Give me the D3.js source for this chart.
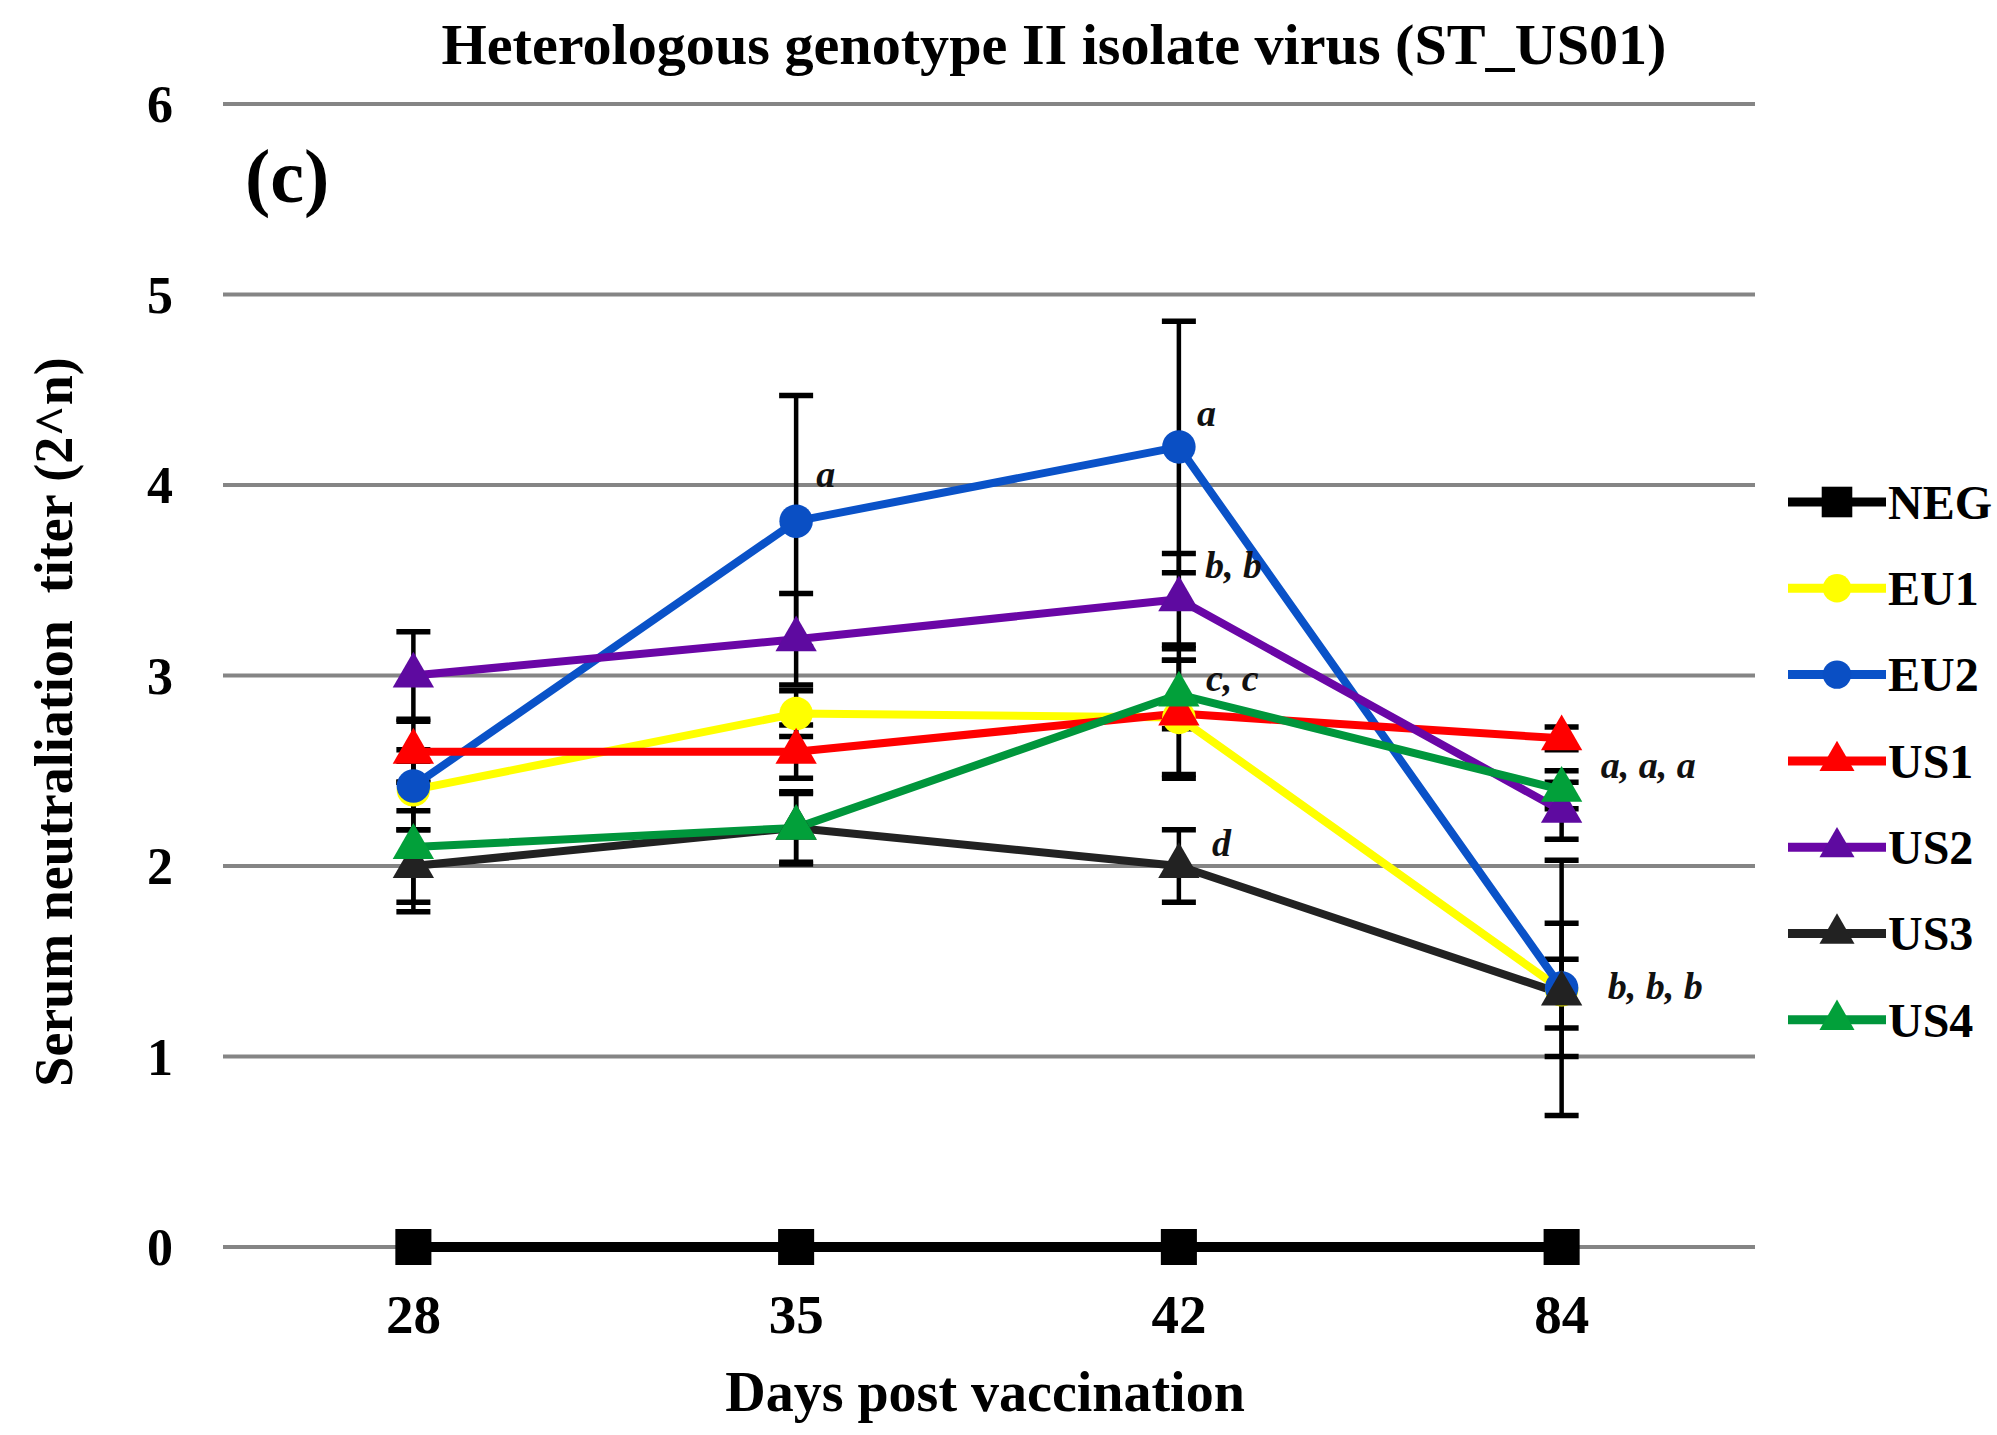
<!DOCTYPE html>
<html><head><meta charset="utf-8">
<script src="https://cdn.jsdelivr.net/npm/d3@7"></script>
<style>body{margin:0;background:#fff} svg{display:block}</style>
</head><body>
<svg id="c" width="1997" height="1435"></svg>
<script>
// ---------- data ----------
const days = ["28", "35", "42", "84"];
const seriesNames = ["NEG", "EU1", "EU2", "US1", "US2", "US3", "US4"];
const NEG = [0, 0, 0, 0];
const EU1 = [2.40, 2.80, 2.78, 1.35];
const EU2 = [2.42, 3.81, 4.20, 1.36];
const US1 = [2.60, 2.60, 2.80, 2.67];
const US2 = [3.00, 3.19, 3.40, 2.29];
const US3 = [2.00, 2.20, 2.00, 1.33];
const US4 = [2.10, 2.20, 2.90, 2.40];
const errNEG = [0, 0, 0, 0];
const errEU1 = [0.21, 0.12, 0.30, 0.35];
const errEU2 = [0.13, 0.66, 0.66, 0.67];
const errUS1 = [0.16, 0.14, 0.34, 0.06];
const errUS2 = [0.23, 0.24, 0.24, 0.15];
const errUS3 = [0.19, 0.18, 0.19, 0.18];
const errUS4 = [0.34, 0.19, 0.18, 0.10];
const yTicks = [0, 1, 2, 3, 4, 5, 6];
const annotTexts = ["a", "a", "b, b", "c, c", "d", "a, a, a", "b, b, b"];
const annotDays = ["35", "42", "42", "42", "42", "84", "84"];
const annotValues = [3.99, 4.31, 3.51, 2.92, 2.05, 2.46, 1.30];
const titleText = "Heterologous genotype II isolate virus (ST_US01)";
const xTitle = "Days post vaccination";
const yTitle = "Serum neutraliation  titer (2^n)";
const panelLabel = "(c)";

// ---------- styles ----------
const seriesValues = [NEG, EU1, EU2, US1, US2, US3, US4];
const seriesErrors = [errNEG, errEU1, errEU2, errUS1, errUS2, errUS3, errUS4];
const colors = ["#000000", "#ffff00", "#0a52c8", "#ff0000", "#6a06a6", "#222222", "#00963c"];
const markerColors = ["#000000", "#ffff00", "#0a4fc4", "#ff0000", "#5e0aa0", "#222222", "#02a03a"];
const shapes = [d3.symbolSquare, d3.symbolCircle, d3.symbolCircle, d3.symbolTriangle, d3.symbolTriangle, d3.symbolTriangle, d3.symbolTriangle];
const shapeSizes = [1300, 880, 880, 740, 740, 740, 740];
const FONT = "'Liberation Serif', 'Times New Roman', serif";

const svg = d3.select("#c");
const x = d3.scalePoint().domain(days).range([222, 1753]).padding(0.5);
const y = d3.scaleLinear().domain([0, 6]).range([1247, 104]);
const gridX0 = 223, gridX1 = 1755;

// gridlines
svg.append("g").selectAll("line").data(yTicks).join("line")
  .attr("x1", gridX0).attr("x2", gridX1)
  .attr("y1", d => y(d)).attr("y2", d => y(d))
  .attr("stroke", "#858585").attr("stroke-width", 4);

// y tick labels
svg.append("g").selectAll("text").data(yTicks).join("text")
  .attr("x", 173).attr("y", d => y(d)).attr("dy", "0.35em")
  .attr("text-anchor", "end")
  .attr("font-family", FONT).attr("font-weight", "bold").attr("font-size", 52)
  .text(d => d);

// x tick labels
svg.append("g").selectAll("text").data(days).join("text")
  .attr("x", d => x(d)).attr("y", 1333)
  .attr("text-anchor", "middle")
  .attr("font-family", FONT).attr("font-weight", "bold").attr("font-size", 55)
  .text(d => d);

// titles
svg.append("text").attr("x", 1054).attr("y", 64).attr("text-anchor", "middle")
  .attr("font-family", FONT).attr("font-weight", "bold").attr("font-size", 58)
  .attr("textLength", 1225).attr("lengthAdjust", "spacingAndGlyphs")
  .text(titleText);
svg.append("text").attr("x", 985).attr("y", 1411).attr("text-anchor", "middle")
  .attr("font-family", FONT).attr("font-weight", "bold").attr("font-size", 56)
  .text(xTitle);
svg.append("text").attr("transform", "translate(72,722) rotate(-90)")
  .attr("text-anchor", "middle").attr("xml:space", "preserve")
  .style("white-space", "pre")
  .attr("font-family", FONT).attr("font-weight", "bold").attr("font-size", 54)
  .text(yTitle);
svg.append("text").attr("x", 245).attr("y", 202)
  .attr("font-family", FONT).attr("font-weight", "bold").attr("font-size", 76)
  .text(panelLabel);

// build records
const recs = [];
seriesValues.forEach((vals, si) => vals.forEach((v, i) => recs.push({si, day: days[i], v, e: seriesErrors[si][i]})));

// error bars
const eb = svg.append("g").attr("stroke", "#000");
recs.filter(r => r.e > 0).forEach(r => {
  const cx = x(r.day);
  eb.append("line").attr("x1", cx).attr("x2", cx).attr("y1", y(r.v + r.e)).attr("y2", y(r.v - r.e)).attr("stroke-width", 4.5);
  [r.v + r.e, r.v - r.e].forEach(t => eb.append("line").attr("x1", cx - 17).attr("x2", cx + 17).attr("y1", y(t)).attr("y2", y(t)).attr("stroke-width", 5.5));
});

// lines
const line = d3.line().x((d, i) => x(days[i])).y(d => y(d));
svg.append("g").selectAll("path").data(seriesValues).join("path")
  .attr("d", d => line(d)).attr("fill", "none")
  .attr("stroke", (d, i) => colors[i]).attr("stroke-width", (d, i) => i === 0 ? 10 : 8)
  .attr("stroke-linejoin", "round");

// markers
const sym = d3.symbol();
svg.append("g").selectAll("path").data(recs).join("path")
  .attr("transform", r => `translate(${x(r.day)},${y(r.v)})`)
  .attr("d", r => sym.type(shapes[r.si]).size(shapeSizes[r.si])())
  .attr("fill", r => markerColors[r.si]);

// annotations
const annotDx = [20, 18, 26, 27, 33, 39, 46];
svg.append("g").selectAll("text").data(annotTexts).join("text")
  .attr("x", (t, i) => x(annotDays[i]) + annotDx[i])
  .attr("y", (t, i) => y(annotValues[i]))
  .attr("font-family", FONT).attr("font-weight", "bold").attr("font-style", "italic")
  .attr("font-size", 38).attr("fill", "#111").attr("xml:space", "preserve")
  .text(t => t);

// legend
const lg = svg.append("g");
seriesNames.forEach((name, i) => {
  const ly = 502 + i * 86.3;
  lg.append("line").attr("x1", 1788).attr("x2", 1886).attr("y1", ly).attr("y2", ly)
    .attr("stroke", colors[i]).attr("stroke-width", 9);
  lg.append("path").attr("transform", `translate(1837,${ly})`)
    .attr("d", sym.type(shapes[i]).size(shapeSizes[i] * 0.72)())
    .attr("fill", markerColors[i]);
  lg.append("text").attr("x", 1888).attr("y", ly).attr("dy", "0.35em")
    .attr("font-family", FONT).attr("font-weight", "bold").attr("font-size", 48)
    .text(name);
});
</script>
</body></html>
